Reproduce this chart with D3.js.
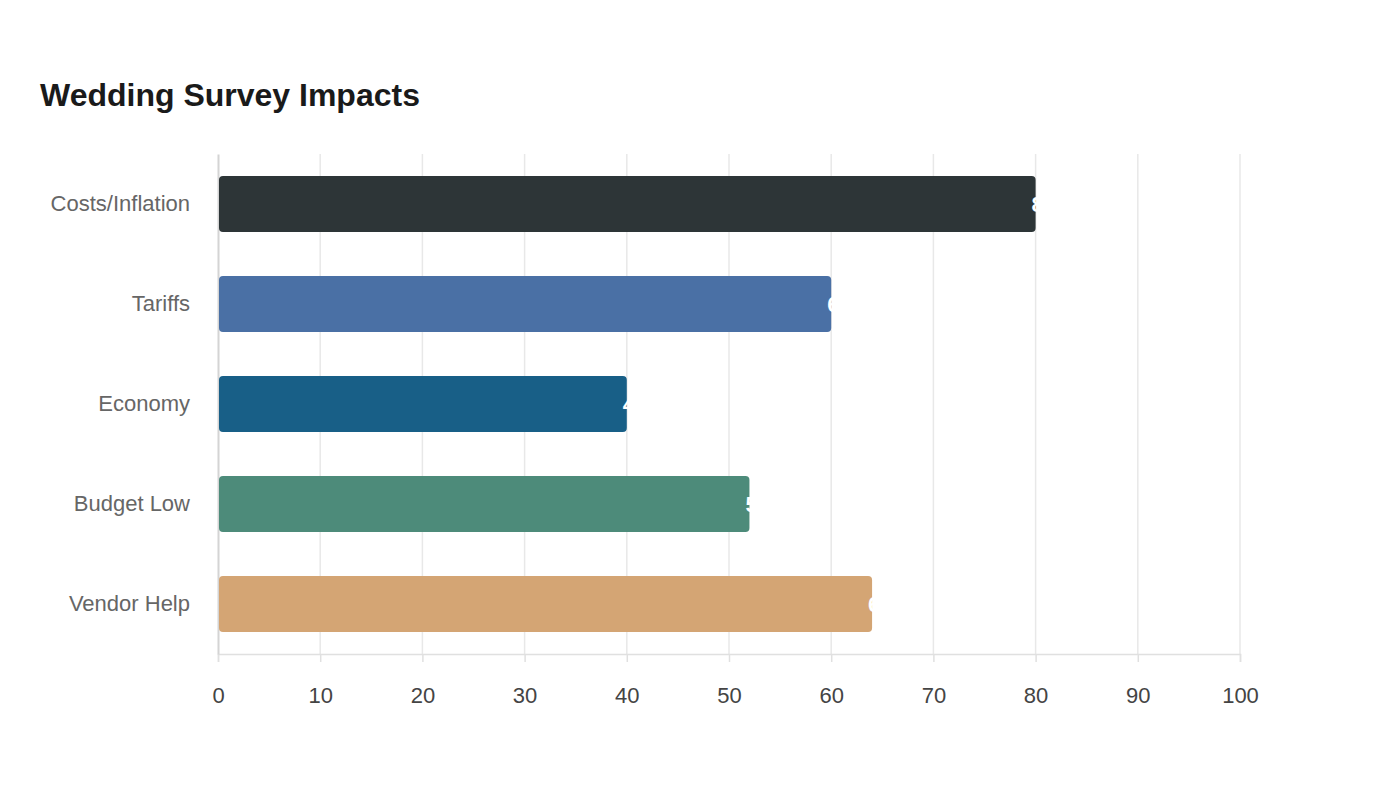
<!DOCTYPE html>
<html>
<head>
<meta charset="utf-8">
<script src="https://cdn.jsdelivr.net/npm/d3@7"></script>
<style>
  body { margin: 0; background: #fff; font-family: "Liberation Sans", Arial, sans-serif; }
</style>
</head>
<body>
<svg id="chart" width="1400" height="800"></svg>
<script>
const categories = ["Costs/Inflation", "Tariffs", "Economy", "Budget Low", "Vendor Help"];
const values = [80, 60, 40, 52, 64];
const colors = ["#2d3537", "#4a70a5", "#185f87", "#4d8b7a", "#d4a574"];
const xTicks = [0, 10, 20, 30, 40, 50, 60, 70, 80, 90, 100];

const svg = d3.select("#chart");
const margin = { top: 154, left: 218, right: 160, bottom: 146 };
const width = 1400 - margin.left - margin.right;
const height = 800 - margin.top - margin.bottom;

svg.append("text")
    .attr("x", 40)
    .attr("y", 106)
    .attr("font-size", 32)
    .attr("font-weight", "bold")
    .attr("fill", "#1a1a1a")
    .text("Wedding Survey Impacts");

const g = svg.append("g").attr("transform", `translate(${margin.left},${margin.top})`);

const x = d3.scaleLinear().domain([0, 100]).range([0, width]);
const y = d3.scaleBand().domain(categories).range([0, height]).paddingInner(0.44).paddingOuter(0.22);

// vertical gridlines
g.append("g")
    .selectAll("line")
    .data(xTicks.slice(1))
    .enter()
    .append("line")
    .attr("x1", (d) => x(d))
    .attr("x2", (d) => x(d))
    .attr("y1", 0)
    .attr("y2", height)
    .attr("stroke", "#e8e8e8")
    .attr("stroke-width", 1.5);

// x axis
const xAxis = g.append("g")
    .attr("transform", `translate(0,${height})`)
    .call(d3.axisBottom(x).tickValues(xTicks).tickSize(8).tickPadding(25));
xAxis.select(".domain").attr("stroke", "#e0e0e0").attr("stroke-width", 1.5);
xAxis.selectAll(".tick line").attr("stroke", "#e0e0e0").attr("stroke-width", 1.5);
xAxis.selectAll(".tick text")
    .attr("font-size", 22)
    .attr("fill", "#444")
    .attr("font-family", "Liberation Sans, Arial, sans-serif");

// y axis
const yAxis = g.append("g")
    .call(d3.axisLeft(y).tickSize(0).tickPadding(28));
yAxis.select(".domain").attr("stroke", "#d4d4d4").attr("stroke-width", 2);
yAxis.selectAll(".tick text")
    .attr("font-size", 22)
    .attr("fill", "#666")
    .attr("font-family", "Liberation Sans, Arial, sans-serif");

// bars
g.append("g")
    .selectAll("rect")
    .data(categories)
    .enter()
    .append("rect")
    .attr("x", 1)
    .attr("y", (d) => y(d))
    .attr("width", (d, i) => x(values[i]) - 1)
    .attr("height", y.bandwidth())
    .attr("rx", 4)
    .attr("fill", (d, i) => colors[i]);

// value labels (white, mostly lost past the bar end)
g.append("g")
    .selectAll("text")
    .data(categories)
    .enter()
    .append("text")
    .attr("x", (d, i) => x(values[i]) - 4)
    .attr("y", (d) => y(d) + y.bandwidth() / 2)
    .attr("dy", "0.35em")
    .attr("font-size", 22)
    .attr("font-weight", "bold")
    .attr("fill", "#fff")
    .text((d, i) => values[i]);
</script>
</body>
</html>
